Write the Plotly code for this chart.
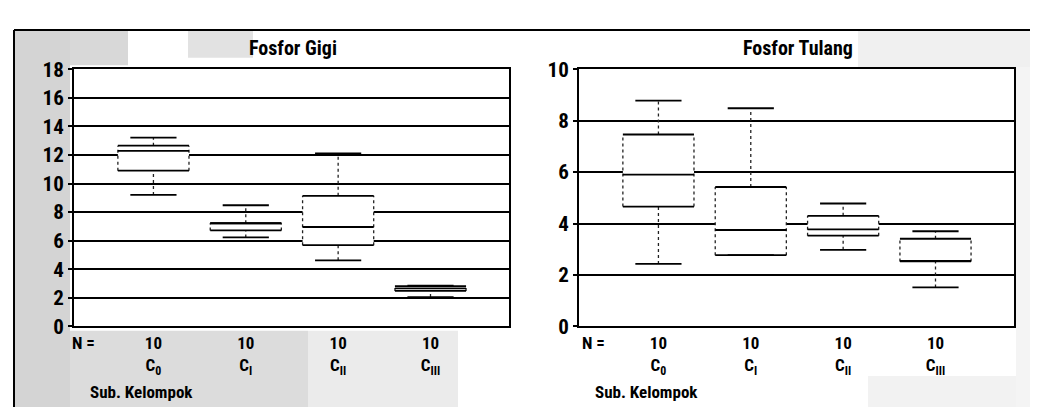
import plotly.graph_objects as go

W, H = 1038, 411

categories = ["C<sub>0</sub>", "C<sub>I</sub>", "C<sub>II</sub>", "C<sub>III</sub>"]
n_counts = [10, 10, 10, 10]

# Fosfor Gigi
gigi_lower = [9.20, 6.23, 4.63, 2.06]
gigi_q1 = [10.90, 6.72, 5.69, 2.49]
gigi_median = [12.28, 7.22, 6.96, 2.67]
gigi_q3 = [12.65, 7.22, 9.14, 2.82]
gigi_upper = [13.21, 8.48, 12.10, 2.85]

# Fosfor Tulang
tulang_lower = [2.43, 2.77, 2.98, 1.52]
tulang_q1 = [4.66, 2.77, 3.53, 2.53]
tulang_median = [5.90, 3.75, 3.77, 2.55]
tulang_q3 = [7.46, 5.42, 4.30, 3.41]
tulang_upper = [8.78, 8.48, 4.78, 3.70]

FONT = "Liberation Sans Narrow, Arial Narrow, Roboto Condensed, Liberation Sans, sans-serif"
BOX_HALF = 0.385
CAP_HALF = 0.25

def px(x):
    return x / W

def py(y):
    return 1 - y / H

xpos = list(range(len(categories)))
ticktext = [f"<b>{n}</b><br><b>{c}</b>" for n, c in zip(n_counts, categories)]

fig = go.Figure()

for name, xa, ya, lo, q1, md, q3, up in [
    ("Fosfor Gigi", "x", "y", gigi_lower, gigi_q1, gigi_median, gigi_q3, gigi_upper),
    ("Fosfor Tulang", "x2", "y2", tulang_lower, tulang_q1, tulang_median, tulang_q3, tulang_upper),
]:
    # white box body (hides the gridlines like the original)
    fig.add_trace(go.Box(
        x=xpos, q1=q1, median=md, q3=q3, lowerfence=q1, upperfence=q3,
        xaxis=xa, yaxis=ya, name=name,
        fillcolor="white", line=dict(color="white", width=0),
        width=2 * BOX_HALF, whiskerwidth=0, boxpoints=False, showlegend=False,
        hoverinfo="skip",
    ))
    solid_x, solid_y, dot_x, dot_y = [], [], [], []
    for i, x in enumerate(xpos):
        # box top, bottom, median
        for v in (q3[i], q1[i], md[i]):
            solid_x += [x - BOX_HALF, x + BOX_HALF, None]
            solid_y += [v, v, None]
        # whisker caps
        for v in (up[i], lo[i]):
            solid_x += [x - CAP_HALF, x + CAP_HALF, None]
            solid_y += [v, v, None]
        # box sides (dotted)
        for s in (-BOX_HALF, BOX_HALF):
            dot_x += [x + s, x + s, None]
            dot_y += [q1[i], q3[i], None]
        # whiskers (dotted)
        dot_x += [x, x, None, x, x, None]
        dot_y += [q3[i], up[i], None, lo[i], q1[i], None]
    fig.add_trace(go.Scatter(x=dot_x, y=dot_y, mode="lines", xaxis=xa, yaxis=ya,
                             line=dict(color="#222222", width=1.3, dash="dot"),
                             showlegend=False, hoverinfo="skip"))
    fig.add_trace(go.Scatter(x=solid_x, y=solid_y, mode="lines", xaxis=xa, yaxis=ya,
                             line=dict(color="black", width=1.8),
                             showlegend=False, hoverinfo="skip"))

axis_common = dict(
    showline=True, linecolor="black", linewidth=2, mirror=True,
    zeroline=False,
)
xcommon = dict(axis_common, range=[-0.86, 3.85], tickmode="array", tickvals=xpos,
               ticktext=ticktext, showgrid=False, ticks="",
               tickfont=dict(family=FONT, size=17, color="black"))
ycommon = dict(axis_common, showgrid=True, gridcolor="black", gridwidth=2,
               ticks="outside", ticklen=4, tickcolor="black", tickwidth=1.5,
               tickfont=dict(family=FONT, size=21, color="black"),
               tickprefix="<b>", ticksuffix="</b>")

dom_y = [py(325.5), py(52.2)]
fig.update_layout(
    width=W, height=H,
    margin=dict(l=0, r=0, t=0, b=0),
    paper_bgcolor="white", plot_bgcolor="white",
    xaxis=dict(xcommon, domain=[px(66), px(501)], anchor="y"),
    yaxis=dict(ycommon, domain=dom_y, range=[0, 18], dtick=2, anchor="x"),
    xaxis2=dict(xcommon, domain=[px(571), px(1006)], anchor="y2"),
    yaxis2=dict(ycommon, domain=dom_y, range=[0, 10], dtick=2, anchor="x2"),
)

annots = [
    dict(text="<b>Fosfor Gigi</b>", x=px(285), y=py(30), size=20),
    dict(text="<b>Fosfor Tulang</b>", x=px(790), y=py(30), size=20),
]
for a in annots:
    fig.add_annotation(text=a["text"], x=a["x"], y=a["y"], xref="paper", yref="paper",
                       xanchor="center", yanchor="middle", showarrow=False,
                       font=dict(family=FONT, size=a["size"], color="black"))
for xl in (62, 572):
    fig.add_annotation(text="<b>N =</b>", x=px(xl), y=py(343), xref="paper", yref="paper",
                       xanchor="left", yanchor="middle", showarrow=False,
                       font=dict(family=FONT, size=17, color="black"))
for xl in (80, 585):
    fig.add_annotation(text="<b>Sub. Kelompok</b>", x=px(xl), y=py(395), xref="paper", yref="paper",
                       xanchor="left", yanchor="middle", showarrow=False,
                       font=dict(family=FONT, size=17, color="black"))

# scanned halftone background patches and frame
shapes = [
    dict(type="rect", x0=px(6), x1=px(62), y0=0, y1=py(10), fillcolor="#d4d4d4", line_width=0, layer="below"),
    dict(type="rect", x0=px(62), x1=px(300), y0=0, y1=py(330), fillcolor="#dcdcdc", line_width=0, layer="below"),
    dict(type="rect", x0=px(300), x1=px(450), y0=0, y1=py(330), fillcolor="#ebebeb", line_width=0, layer="below"),
    dict(type="rect", x0=px(62), x1=px(120), y0=py(48), y1=py(10), fillcolor="#d8d8d8", line_width=0, layer="below"),
    dict(type="rect", x0=px(180), x1=px(245), y0=py(40), y1=py(10), fillcolor="#e2e2e2", line_width=0, layer="below"),
    dict(type="rect", x0=px(850), x1=1, y0=py(50), y1=py(10), fillcolor="#f0f0f0", line_width=0, layer="below"),
    dict(type="rect", x0=px(1008), x1=1, y0=0, y1=py(50), fillcolor="#f4f4f4", line_width=0, layer="below"),
    dict(type="rect", x0=px(860), x1=px(1008), y0=0, y1=py(378), fillcolor="#f2f2f2", line_width=0, layer="below"),
    dict(type="line", x0=px(6), x1=1, y0=py(10.5), y1=py(10.5), line=dict(color="black", width=2)),
    dict(type="line", x0=px(6), x1=px(6), y0=0, y1=py(10.5), line=dict(color="black", width=2)),
]
for s in shapes:
    fig.add_shape(xref="paper", yref="paper", **s)

fig.write_html("out.html")
